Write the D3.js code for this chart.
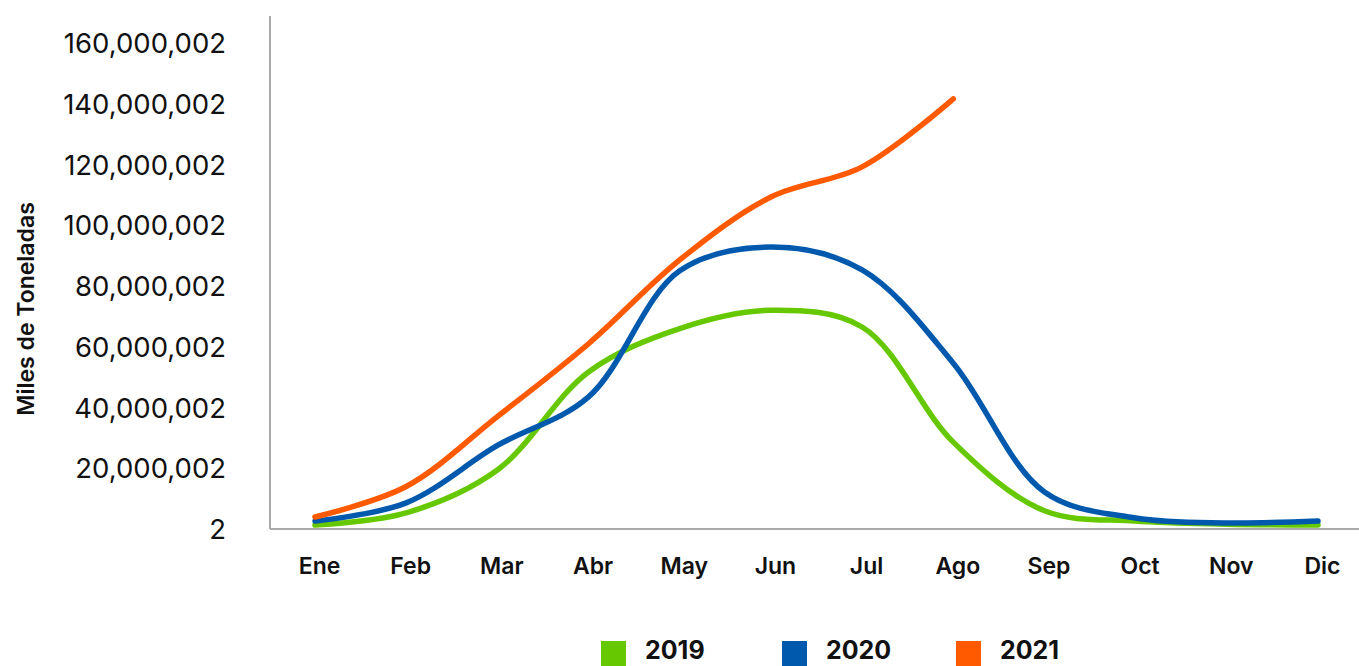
<!DOCTYPE html>
<html>
<head>
<meta charset="utf-8">
<script src="https://cdn.jsdelivr.net/npm/d3@7"></script>
<style>
  html, body { margin: 0; padding: 0; background: #fff; }
  svg { display: block; font-family: Inter, "Noto Sans", sans-serif; }
</style>
</head>
<body>
<svg id="chart" width="1359" height="666"></svg>
<script>
const months = ["Ene","Feb","Mar","Abr","May","Jun","Jul","Ago","Sep","Oct","Nov","Dic"];
const yTicks = [2, 20000002, 40000002, 60000002, 80000002, 100000002, 120000002, 140000002, 160000002];
const s2019 = [1.3e6, 5.3e6, 19.4e6, 51.7e6, 66e6, 72e6, 66.5e6, 28.6e6, 6e6, 2.6e6, 1.6e6, 1.3e6];
const s2020 = [2.6e6, 8.6e6, 27.5e6, 43.5e6, 85e6, 92.8e6, 85.3e6, 54.6e6, 12.2e6, 3.6e6, 2e6, 2.6e6];
const s2021 = [3.95e6, 14e6, 37e6, 61e6, 88.6e6, 109.3e6, 119.2e6, 141.6e6];
const seriesNames = ["2019", "2020", "2021"];
const seriesColors = ["#66C800", "#0059AD", "#FF5A00"];
const seriesData = [s2019, s2020, s2021];

const svg = d3.select("#chart");
const x = d3.scalePoint().domain(months).range([315, 1318]);
const y = d3.scaleLinear().domain([0, 160e6]).range([529, 43]);

// axes lines
svg.append("line").attr("x1", 270).attr("x2", 270).attr("y1", 16).attr("y2", 529)
  .attr("stroke", "#aaaaaa").attr("stroke-width", 2);
svg.append("line").attr("x1", 270).attr("x2", 1359).attr("y1", 529).attr("y2", 529)
  .attr("stroke", "#aaaaaa").attr("stroke-width", 2);

// y axis labels
const yAxis = d3.axisLeft(y).tickValues(yTicks).tickFormat(d3.format(",")).tickSize(0).tickPadding(0);
const gy = svg.append("g").attr("transform", "translate(226,0)").call(yAxis);
gy.select(".domain").remove();
gy.selectAll("text").attr("font-size", 27.5).attr("fill", "#111").attr("dy", "0.35em")
  .style("font-family", "Inter, sans-serif");

// x axis labels
const xAxis = d3.axisBottom(x).tickSize(0).tickPadding(0);
const gx = svg.append("g").attr("transform", "translate(4,574)").call(xAxis);
gx.select(".domain").remove();
gx.selectAll("text").attr("font-size", 23).attr("font-weight", 600).attr("fill", "#111")
  .attr("dy", "0").style("font-family", "Inter, sans-serif");

// y title
svg.append("text").attr("transform", "translate(34,309) rotate(-90)")
  .attr("text-anchor", "middle").attr("font-size", 23).attr("font-weight", 600)
  .attr("fill", "#111").text("Miles de Toneladas");

// lines
const line = d3.line().x((d, i) => x(months[i])).y(d => y(d)).curve(d3.curveCatmullRom.alpha(0.5));
seriesData.forEach((s, k) => {
  svg.append("path").datum(s).attr("d", line).attr("fill", "none")
    .attr("stroke", seriesColors[k]).attr("stroke-width", 5.5)
    .attr("stroke-linecap", "round").attr("stroke-linejoin", "round");
});

// legend
const legX = [601, 782, 956];
seriesNames.forEach((n, k) => {
  svg.append("rect").attr("x", legX[k]).attr("y", 641).attr("width", 25).attr("height", 25)
    .attr("fill", seriesColors[k]);
  svg.append("text").attr("x", legX[k] + 44).attr("y", 659).attr("font-size", 25)
    .attr("font-weight", 700).attr("fill", "#111").text(n);
});
</script>
</body>
</html>
